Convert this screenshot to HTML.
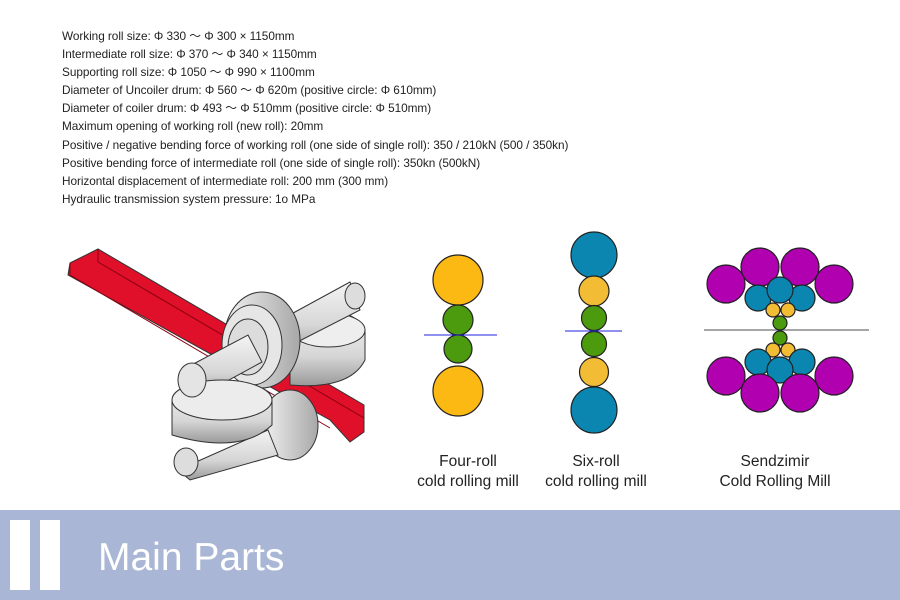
<!DOCTYPE html>
<html><head><meta charset="utf-8"><style>
html,body{margin:0;padding:0;background:#fff;}
body{width:900px;height:600px;position:relative;overflow:hidden;font-family:"Liberation Sans",sans-serif;}
.spec{position:absolute;left:62px;top:27px;font-size:11.8px;line-height:18.1px;color:#222;letter-spacing:-0.05px;}
.banner{position:absolute;left:0;top:510px;width:900px;height:90px;background:#a9b6d6;}
.bar{position:absolute;top:10px;width:20px;height:70px;background:#fff;}
.title{position:absolute;left:98px;top:26px;font-size:39px;color:#fff;}
svg{position:absolute;left:0;top:0;}
.lbl{font-family:"Liberation Sans",sans-serif;font-size:15.5px;fill:#222;text-anchor:middle;}
</style></head><body>
<div class="spec">
Working roll size: Φ 330 ～ Φ 300 × 1150mm<br>
Intermediate roll size: Φ 370 ～ Φ 340 × 1150mm<br>
Supporting roll size: Φ 1050 ～ Φ 990 × 1100mm<br>
Diameter of Uncoiler drum: Φ 560 ～ Φ 620m (positive circle: Φ 610mm)<br>
Diameter of coiler drum: Φ 493 ～ Φ 510mm (positive circle: Φ 510mm)<br>
Maximum opening of working roll (new roll): 20mm<br>
Positive / negative bending force of working roll (one side of single roll): 350 / 210kN (500 / 350kn)<br>
Positive bending force of intermediate roll (one side of single roll): 350kn (500kN)<br>
Horizontal displacement of intermediate roll: 200 mm (300 mm)<br>
Hydraulic transmission system pressure: 1o MPa
</div>
<svg width="900" height="510" viewBox="0 0 900 510">
<defs>
<linearGradient id="g" x1="0" y1="0" x2="0" y2="1"><stop offset="0" stop-color="#f4f4f4"/><stop offset="0.6" stop-color="#d6d6d6"/><stop offset="1" stop-color="#9a9a9a"/></linearGradient>
<linearGradient id="g2" x1="0" y1="0" x2="1" y2="0"><stop offset="0" stop-color="#f2f2f2"/><stop offset="1" stop-color="#a8a8a8"/></linearGradient>
</defs>
<g stroke="#333" stroke-width="1">
<polygon points="70,263 98,249 364,405 364,432 350,442 330,420 68,275" fill="#e0102a"/>
<polyline points="98,249 98,262 364,418" fill="none" stroke="#8a0010"/>
<polyline points="70,263 70,275 330,428" fill="none" stroke="#8a0010"/>
<ellipse cx="290" cy="425" rx="28" ry="35" fill="url(#g2)"/>
<path d="M178,470 L268,430 L278,455 L190,480 Z" fill="url(#g)"/>
<ellipse cx="186" cy="462" rx="12" ry="14" fill="#ddd"/>
<path d="M290,320 Q350,300 365,330 L365,360 Q350,390 290,385 Z" fill="url(#g)"/>
<ellipse cx="328" cy="330" rx="37" ry="17" fill="#eee"/>
<path d="M262,330 L350,282 L360,310 L272,355 Z" fill="url(#g)"/>
<ellipse cx="355" cy="296" rx="10" ry="13" fill="#ddd"/>
<ellipse cx="262" cy="340" rx="38" ry="48" fill="url(#g2)"/>
<ellipse cx="252" cy="345" rx="30" ry="40" fill="#e6e6e6"/>
<ellipse cx="248" cy="347" rx="20" ry="28" fill="#dcdcdc"/>
<path d="M182,370 L248,335 L262,362 L196,398 Z" fill="url(#g)"/>
<path d="M172,400 Q230,375 272,400 L272,425 Q240,455 172,435 Z" fill="url(#g)"/>
<ellipse cx="222" cy="400" rx="50" ry="20" fill="#ececec"/>
<ellipse cx="192" cy="380" rx="14" ry="17" fill="#e4e4e4"/>
</g>
<g stroke="#222" stroke-width="1.2">
<circle cx="458" cy="280" r="25" fill="#fdb913"/>
<circle cx="458" cy="320" r="15" fill="#4c9a0e"/>
<circle cx="458" cy="349" r="14" fill="#4c9a0e"/>
<circle cx="458" cy="391" r="25" fill="#fdb913"/>
</g>
<line x1="424" y1="335" x2="497" y2="335" stroke="#2222dd" stroke-width="1"/>
<g stroke="#222" stroke-width="1.2">
<circle cx="594" cy="255" r="23" fill="#0b86b0"/>
<circle cx="594" cy="291" r="15" fill="#f2bd34"/>
<circle cx="594" cy="318" r="12.5" fill="#4c9a0e"/>
<circle cx="594" cy="344" r="12.5" fill="#4c9a0e"/>
<circle cx="594" cy="372" r="14.5" fill="#f2bd34"/>
<circle cx="594" cy="410" r="23" fill="#0b86b0"/>
</g>
<line x1="565" y1="331" x2="622" y2="331" stroke="#2222dd" stroke-width="1"/>
<line x1="704" y1="330" x2="869" y2="330" stroke="#888" stroke-width="1.5"/>
<g stroke="#222" stroke-width="1.2">
<circle cx="726" cy="284" r="19" fill="#b000b0"/>
<circle cx="834" cy="284" r="19" fill="#b000b0"/>
<circle cx="760" cy="267" r="19" fill="#b000b0"/>
<circle cx="800" cy="267" r="19" fill="#b000b0"/>
<circle cx="758" cy="298" r="13" fill="#0b86b0"/>
<circle cx="802" cy="298" r="13" fill="#0b86b0"/>
<circle cx="780" cy="290" r="13" fill="#0b86b0"/>
<circle cx="773" cy="310" r="7" fill="#f2bd34"/>
<circle cx="788" cy="310" r="7" fill="#f2bd34"/>
<circle cx="780" cy="323" r="7" fill="#4c9a0e"/>
<circle cx="780" cy="338" r="7" fill="#4c9a0e"/>
<circle cx="773" cy="350" r="7" fill="#f2bd34"/>
<circle cx="788" cy="350" r="7" fill="#f2bd34"/>
<circle cx="758" cy="362" r="13" fill="#0b86b0"/>
<circle cx="802" cy="362" r="13" fill="#0b86b0"/>
<circle cx="780" cy="370" r="13" fill="#0b86b0"/>
<circle cx="726" cy="376" r="19" fill="#b000b0"/>
<circle cx="834" cy="376" r="19" fill="#b000b0"/>
<circle cx="760" cy="393" r="19" fill="#b000b0"/>
<circle cx="800" cy="393" r="19" fill="#b000b0"/>
</g>
<text class="lbl" x="468" y="466">Four-roll</text>
<text class="lbl" x="468" y="486">cold rolling mill</text>
<text class="lbl" x="596" y="466">Six-roll</text>
<text class="lbl" x="596" y="486">cold rolling mill</text>
<text class="lbl" x="775" y="466">Sendzimir</text>
<text class="lbl" x="775" y="486">Cold Rolling Mill</text>
</svg>
<div class="banner"><div class="bar" style="left:10px"></div><div class="bar" style="left:40px"></div><div class="title">Main Parts</div></div>
</body></html>
